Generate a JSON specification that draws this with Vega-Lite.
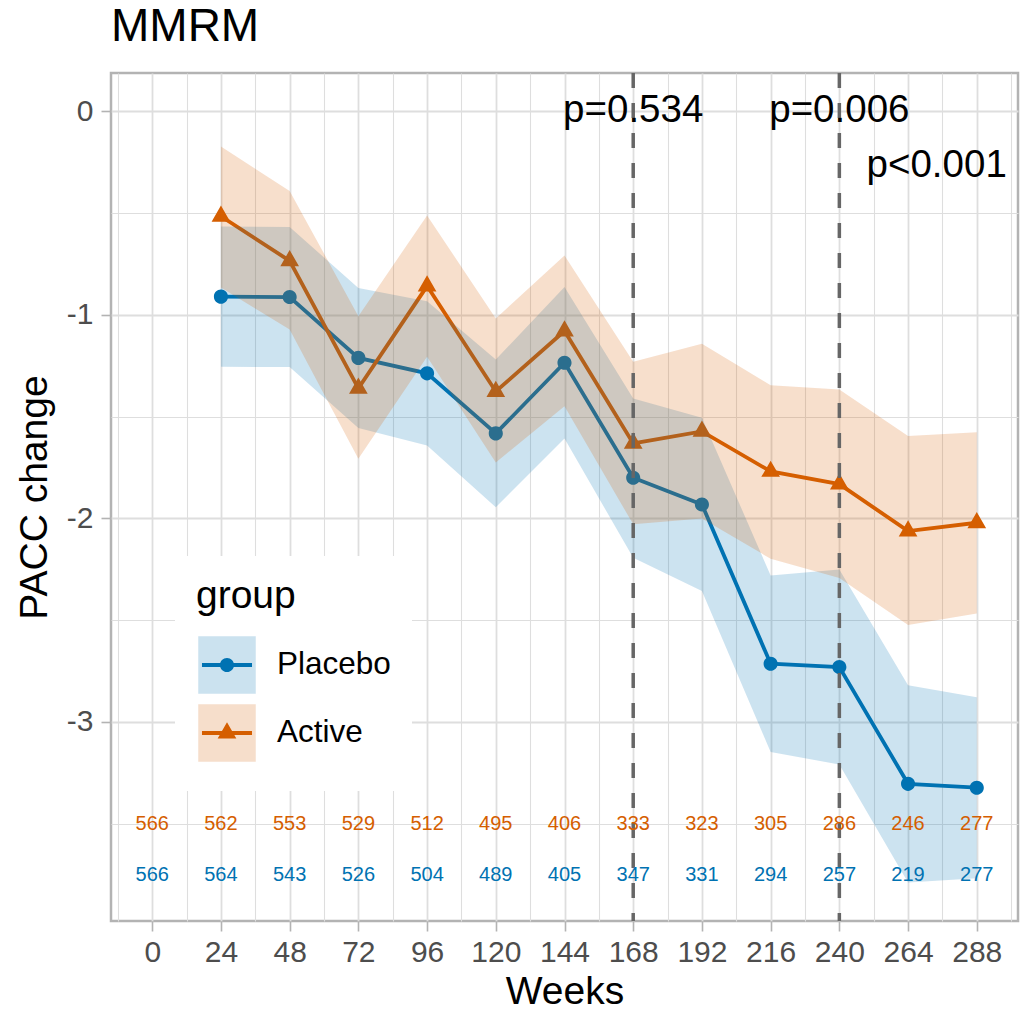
{
  "$schema": "https://vega.github.io/schema/vega-lite/v6.json",
  "width": 907,
  "height": 848,
  "autosize": {"type": "none"},
  "padding": {"left": 111, "top": 73, "right": 2, "bottom": 93},
  "background": "white",
  "title": {"text": "MMRM", "anchor": "start", "frame": "group", "font": "Liberation Sans", "fontSize": 46, "fontWeight": "normal", "color": "black", "offset": 20},
  "config": {
    "font": "Liberation Sans",
    "view": {"stroke": "#b3b3b3", "strokeWidth": 2.5}
  },
  "datasets": {
    "mmrm": [
      {"group": "Placebo", "week": 0, "est": null, "lower": null, "upper": null, "n": 566},
      {"group": "Placebo", "week": 24, "est": -0.91, "lower": -1.255, "upper": -0.565, "n": 564},
      {"group": "Placebo", "week": 48, "est": -0.912, "lower": -1.256, "upper": -0.568, "n": 543},
      {"group": "Placebo", "week": 72, "est": -1.211, "lower": -1.555, "upper": -0.867, "n": 526},
      {"group": "Placebo", "week": 96, "est": -1.287, "lower": -1.641, "upper": -0.933, "n": 504},
      {"group": "Placebo", "week": 120, "est": -1.582, "lower": -1.945, "upper": -1.219, "n": 489},
      {"group": "Placebo", "week": 144, "est": -1.235, "lower": -1.607, "upper": -0.863, "n": 405},
      {"group": "Placebo", "week": 168, "est": -1.8, "lower": -2.193, "upper": -1.41, "n": 347},
      {"group": "Placebo", "week": 192, "est": -1.931, "lower": -2.357, "upper": -1.505, "n": 331},
      {"group": "Placebo", "week": 216, "est": -2.714, "lower": -3.148, "upper": -2.28, "n": 294},
      {"group": "Placebo", "week": 240, "est": -2.73, "lower": -3.209, "upper": -2.251, "n": 257},
      {"group": "Placebo", "week": 264, "est": -3.304, "lower": -3.789, "upper": -2.819, "n": 219},
      {"group": "Placebo", "week": 288, "est": -3.323, "lower": -3.768, "upper": -2.878, "n": 277},
      {"group": "Active", "week": 0, "est": null, "lower": null, "upper": null, "n": 566},
      {"group": "Active", "week": 24, "est": -0.515, "lower": -0.865, "upper": -0.172, "n": 562},
      {"group": "Active", "week": 48, "est": -0.734, "lower": -1.071, "upper": -0.391, "n": 553},
      {"group": "Active", "week": 72, "est": -1.361, "lower": -1.707, "upper": -1.006, "n": 529},
      {"group": "Active", "week": 96, "est": -0.858, "lower": -1.205, "upper": -0.511, "n": 512},
      {"group": "Active", "week": 120, "est": -1.376, "lower": -1.725, "upper": -1.017, "n": 495},
      {"group": "Active", "week": 144, "est": -1.079, "lower": -1.448, "upper": -0.708, "n": 406},
      {"group": "Active", "week": 168, "est": -1.631, "lower": -2.029, "upper": -1.23, "n": 333},
      {"group": "Active", "week": 192, "est": -1.572, "lower": -2.0, "upper": -1.142, "n": 323},
      {"group": "Active", "week": 216, "est": -1.769, "lower": -2.198, "upper": -1.345, "n": 305},
      {"group": "Active", "week": 240, "est": -1.831, "lower": -2.292, "upper": -1.366, "n": 286},
      {"group": "Active", "week": 264, "est": -2.062, "lower": -2.524, "upper": -1.595, "n": 246},
      {"group": "Active", "week": 288, "est": -2.021, "lower": -2.467, "upper": -1.576, "n": 277}
    ],
    "vlines": [{"week": 168}, {"week": 240}],
    "pvals": [
      {"week": 168, "y": 0, "label": "p=0.534"},
      {"week": 240, "y": 0, "label": "p=0.006"},
      {"week": 274, "y": -0.27, "label": "p<0.001"}
    ]
  },
  "data": {"name": "mmrm"},
  "encoding": {
    "x": {
      "field": "week", "type": "quantitative", "title": "Weeks",
      "scale": {"domain": [-14.4, 302.4], "nice": false, "zero": false},
      "axis": {
        "values": [-12, 0, 12, 24, 36, 48, 60, 72, 84, 96, 108, 120, 132, 144, 156, 168, 180, 192, 204, 216, 228, 240, 252, 264, 276, 288, 300],
        "labelExpr": "(datum.value % 24 === 0 && datum.value >= 0 && datum.value <= 288) ? '' + datum.value : ''",
        "grid": true, "gridColor": "#dedede",
        "gridWidth": {"condition": {"test": "datum.value % 24 === 0", "value": 1.8}, "value": 1.1},
        "tickSize": 10, "tickColor": "#b3b3b3", "tickWidth": 1.6,
        "tickOpacity": {"condition": {"test": "datum.value % 24 === 0 && datum.value >= 0 && datum.value <= 288", "value": 1}, "value": 0},
        "labelFont": "Liberation Sans", "labelFontSize": 30, "labelColor": "#4d4d4d", "labelPadding": 6,
        "labelFlush": false, "labelOverlap": false, "domain": false,
        "titleFont": "Liberation Sans", "titleFontSize": 39, "titleFontWeight": "normal", "titleColor": "black", "titlePadding": 5
      }
    }
  },
  "layer": [
    {
      "transform": [{"filter": "isValid(datum.est)"}],
      "mark": {"type": "line", "strokeWidth": 3.8},
      "encoding": {
        "y": {
          "field": "est", "type": "quantitative", "title": "PACC change",
          "scale": {"domain": [-3.978, 0.189], "nice": false, "zero": false},
          "axis": {
            "orient": "left",
            "values": [-3.5, -3, -2.5, -2, -1.5, -1, -0.5, 0],
            "labelExpr": "datum.value % 1 === 0 ? '' + datum.value : ''",
            "grid": true, "gridColor": "#dedede",
            "gridWidth": {"condition": {"test": "datum.value % 1 === 0", "value": 1.8}, "value": 1.1},
            "tickSize": 10, "tickColor": "#b3b3b3", "tickWidth": 1.6,
            "tickOpacity": {"condition": {"test": "datum.value % 1 === 0", "value": 1}, "value": 0},
            "labelFont": "Liberation Sans", "labelFontSize": 30, "labelColor": "#4d4d4d", "labelPadding": 8,
            "labelFlush": false, "labelOverlap": false, "domain": false,
            "titleFont": "Liberation Sans", "titleFontSize": 39, "titleFontWeight": "normal", "titleColor": "black", "titlePadding": 12
          }
        },
        "stroke": {
          "field": "group", "type": "nominal",
          "sort": {"field": "est", "op": "min", "order": "ascending"},
          "scale": {"range": ["#0072B2", "#D55E00"]},
          "legend": {
            "orient": "none", "legendX": 64, "legendY": 483, "padding": 21, "fillColor": "white",
            "title": "group", "titleFont": "Liberation Sans", "titleFontSize": 39, "titleFontWeight": "normal", "titleColor": "black", "titlePadding": 18,
            "labelFont": "Liberation Sans", "labelFontSize": 31.5, "labelColor": "black", "labelOffset": 19,
            "rowPadding": -14, "symbolSize": 3306, "symbolStrokeWidth": 4, "symbolOffset": 0,
            "symbolType": "M-1,-1L-1,-1M1,1L1,1M-0.87,0L0.87,0"
          }
        }
      }
    },
    {
      "transform": [{"filter": "isValid(datum.est)"}],
      "mark": {"type": "point", "filled": true, "opacity": 1, "size": 3306},
      "encoding": {
        "y": {"field": "est", "type": "quantitative", "title": "PACC change"},
        "color": {
          "field": "group", "type": "nominal", "sort": "descending",
          "scale": {"range": ["#0072B2", "#D55E00"]},
          "legend": {
            "orient": "none", "legendX": 64, "legendY": 483, "padding": 21,
            "title": "group", "titleFont": "Liberation Sans", "titleFontSize": 39, "titleFontWeight": "normal", "titleColor": "black", "titlePadding": 18, "titleOpacity": 0,
            "labelFont": "Liberation Sans", "labelFontSize": 31.5, "labelColor": "black", "labelOffset": 19, "labelOpacity": 0,
            "rowPadding": -14, "symbolSize": 3306, "symbolStrokeWidth": 4, "symbolOffset": 0,
            "symbolStrokeColor": "transparent", "symbolOpacity": 1
          }
        },
        "shape": {
          "field": "group", "type": "nominal", "sort": "descending",
          "scale": {"range": [
            "M-1,-1L-1,-1M1,1L1,1M0.245,0A0.245,0.245,0,1,1,-0.245,0A0.245,0.245,0,1,1,0.245,0Z",
            "M-1,-1L-1,-1M1,1L1,1M0,-0.376L0.325,0.188L-0.325,0.188Z"
          ]},
          "legend": {
            "orient": "none", "legendX": 64, "legendY": 483, "padding": 21,
            "title": "group", "titleFont": "Liberation Sans", "titleFontSize": 39, "titleFontWeight": "normal", "titleColor": "black", "titlePadding": 18, "titleOpacity": 0,
            "labelFont": "Liberation Sans", "labelFontSize": 31.5, "labelColor": "black", "labelOffset": 19, "labelOpacity": 0,
            "rowPadding": -14, "symbolSize": 3306, "symbolStrokeWidth": 4, "symbolOffset": 0,
            "symbolStrokeColor": "transparent", "symbolOpacity": 1
          }
        }
      }
    },
    {
      "transform": [{"filter": "isValid(datum.est)"}],
      "mark": {"type": "area", "fillOpacity": 0.2, "opacity": 1},
      "encoding": {
        "y": {"field": "lower", "type": "quantitative", "title": "PACC change"},
        "y2": {"field": "upper"},
        "fill": {
          "field": "group", "type": "nominal",
          "scale": {"domain": ["Placebo", "Active"], "range": ["#0072B2", "#D55E00"]},
          "legend": {
            "orient": "none", "legendX": 64, "legendY": 483, "padding": 21,
            "title": "group", "titleFont": "Liberation Sans", "titleFontSize": 39, "titleFontWeight": "normal", "titleColor": "black", "titlePadding": 18, "titleOpacity": 0,
            "labelFont": "Liberation Sans", "labelFontSize": 31.5, "labelColor": "black", "labelOffset": 19, "labelOpacity": 0,
            "rowPadding": -14, "symbolSize": 3306, "symbolStrokeWidth": 4, "symbolOffset": 0,
            "symbolType": "square", "symbolStrokeColor": "transparent", "symbolOpacity": 0.2
          }
        }
      }
    },
    {
      "data": {"name": "vlines"},
      "mark": {"type": "rule", "strokeDash": [15, 15], "strokeWidth": 3.5, "color": "#666666"},
      "encoding": {}
    },
    {
      "transform": [{"filter": "datum.group === 'Active'"}],
      "mark": {"type": "text", "font": "Liberation Sans", "fontSize": 20, "color": "#D55E00", "baseline": "middle"},
      "encoding": {
        "y": {"datum": -3.5, "type": "quantitative", "title": "PACC change"},
        "text": {"field": "n", "type": "nominal"}
      }
    },
    {
      "transform": [{"filter": "datum.group === 'Placebo'"}],
      "mark": {"type": "text", "font": "Liberation Sans", "fontSize": 20, "color": "#0072B2", "baseline": "middle"},
      "encoding": {
        "y": {"datum": -3.75, "type": "quantitative", "title": "PACC change"},
        "text": {"field": "n", "type": "nominal"}
      }
    },
    {
      "data": {"name": "pvals"},
      "mark": {"type": "text", "font": "Liberation Sans", "fontSize": 38.5, "color": "black", "baseline": "middle", "dy": -1},
      "encoding": {
        "y": {"field": "y", "type": "quantitative", "title": "PACC change"},
        "text": {"field": "label", "type": "nominal"}
      }
    }
  ]
}
